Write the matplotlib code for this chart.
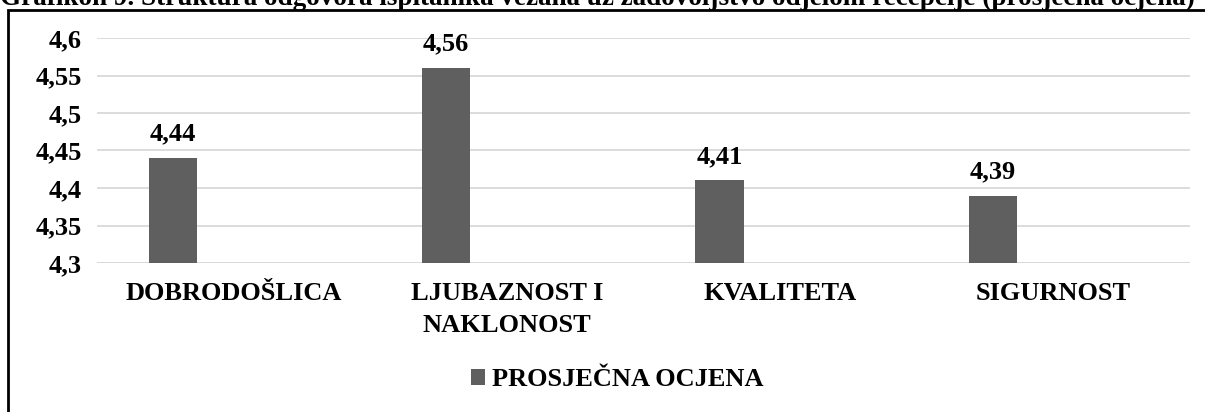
import matplotlib
matplotlib.use('Agg')
import matplotlib.pyplot as plt
from matplotlib.patches import Rectangle

# Data
categories = ['DOBRODOŠLICA', 'LJUBAZNOST I\nNAKLONOST', 'KVALITETA', 'SIGURNOST']
values = [4.44, 4.56, 4.41, 4.39]
value_labels = ['4,44', '4,56', '4,41', '4,39']
y_ticks = [4.3, 4.35, 4.4, 4.45, 4.5, 4.55, 4.6]
y_tick_labels = ['4,3', '4,35', '4,4', '4,45', '4,5', '4,55', '4,6']
series_name = 'PROSJEČNA OCJENA'
title = 'Grafikon 9. Struktura odgovora ispitanika vezana uz zadovoljstvo odjelom recepcije (prosječna ocjena)'

plt.rcParams['font.family'] = ['Liberation Serif', 'DejaVu Serif']
plt.rcParams['font.weight'] = 'bold'

W, H = 1205, 412
FS = 19
fig = plt.figure(figsize=(W / 100, H / 100), dpi=100)
fig.patch.set_facecolor('white')

# Outer chart border (cut off at right and bottom in the reference)
fig.patches.append(Rectangle((8 / W, -0.1), 1.2, 1 - 10 / H + 0.1, transform=fig.transFigure,
                             fill=False, edgecolor='black', linewidth=2))

# Caption, partly cut off at the top as in the reference
fig.text(0.0, 1 - 5 / H, title, fontsize=19.5, fontweight='bold', va='baseline', ha='left')

ax = fig.add_axes([97 / W, 1 - 263 / H, (1190 - 97) / W, (263 - 38) / H])

x = list(range(len(categories)))
bar_x = [i - 0.222 for i in x]
bars = ax.bar(bar_x, [v - 4.3 for v in values], bottom=4.3, width=0.176,
              color='#5f5f5f', label=series_name, zorder=3)

for bx, v, lab in zip(bar_x, values, value_labels):
    ax.annotate(lab, (bx, v), xytext=(0, 9), textcoords='offset points',
                ha='center', va='bottom', fontsize=FS, fontweight='bold', annotation_clip=False)

ax.set_xlim(-0.5, len(categories) - 0.5)
ax.set_ylim(4.3, 4.6)
ax.set_yticks(y_ticks)
ax.set_yticklabels(y_tick_labels, fontsize=FS, fontweight='bold')
ax.set_xticks(x)
ax.set_xticklabels(categories, fontsize=FS, fontweight='bold', linespacing=1.5)
ax.tick_params(axis='both', length=0)
ax.tick_params(axis='y', pad=11)
ax.tick_params(axis='x', pad=14)
ax.grid(axis='y', color='#d9d9d9', linewidth=1.3, zorder=0)
for s in ax.spines.values():
    s.set_visible(False)
ax.axhline(4.3, color='#d9d9d9', linewidth=1.3, zorder=1)

fig.legend(handles=[bars], labels=[series_name], loc='center', bbox_to_anchor=(617 / W, 1 - 380 / H),
           frameon=False, prop={'size': FS, 'weight': 'bold'}, handlelength=0.55, handleheight=0.55,
           handletextpad=0.25)

fig.savefig('out.png', dpi=100)
